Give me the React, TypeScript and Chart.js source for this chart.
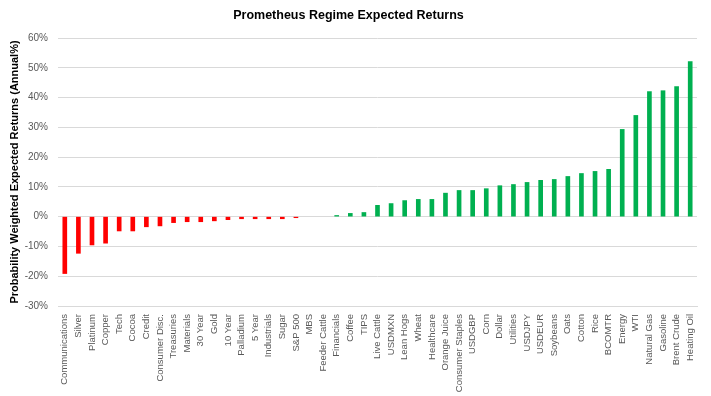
import React, { useEffect, useRef } from "react";
import { Chart, registerables } from "chart.js";

Chart.register(...registerables);

const categories = [
  "Communications", "Silver", "Platinum", "Copper", "Tech", "Cocoa", "Credit", "Consumer Disc.",
  "Treasuries", "Materials", "30 Year", "Gold", "10 Year", "Palladium", "5 Year", "Industrials",
  "Sugar", "S&P 500", "MBS", "Feeder Cattle", "Financials", "Coffee", "TIPS", "Live Cattle",
  "USDMXN", "Lean Hogs", "Wheat", "Healthcare", "Orange Juice", "Consumer Staples", "USDGBP",
  "Corn", "Dollar", "Utilities", "USDJPY", "USDEUR", "Soybeans", "Oats", "Cotton", "Rice",
  "BCOMTR", "Energy", "WTI", "Natural Gas", "Gasoline", "Brent Crude", "Heating Oil",
];

const expectedReturns = [
  -19.1, -12.3, -9.5, -8.9, -4.8, -4.8, -3.4, -3.1,
  -2.0, -1.7, -1.7, -1.4, -1.0, -0.7, -0.7, -0.7,
  -0.7, -0.35, 0, 0, 0.4, 1.1, 1.4, 3.8,
  4.4, 5.4, 5.8, 5.8, 7.9, 8.8, 8.8,
  9.4, 10.4, 10.8, 11.5, 12.2, 12.5, 13.5, 14.5, 15.2,
  15.9, 29.3, 34.0, 42.0, 42.3, 43.7, 52.1,
];

const yMin = -30;
const yMax = 60;
const yStep = 10;

const titleText = "Prometheus Regime Expected Returns";
const yAxisTitle = "Probability Weighted Expected Returns (Annual%)";

export default function App() {
  const ref = useRef<HTMLCanvasElement>(null);
  useEffect(() => {
    if (!ref.current) return;
    const chart = new Chart(ref.current, {
      type: "bar",
      data: {
        labels: categories,
        datasets: [
          {
            data: expectedReturns,
            backgroundColor: expectedReturns.map((v) =>
              v === 0 ? "rgba(0,0,0,0)" : v < 0 ? "#FF0000" : "#00B050"
            ),
            barThickness: 4,
          },
        ],
      },
      options: {
        animation: false,
        responsive: false,
        devicePixelRatio: 1,
        layout: { padding: { left: 0, right: 14, top: 0, bottom: 0 } },
        plugins: {
          legend: { display: false },
          tooltip: { enabled: false },
          title: {
            display: true,
            text: titleText,
            color: "#000000",
            font: { family: "'Liberation Sans', Arial, sans-serif", size: 12.5, weight: "bold" },
            padding: { top: 8, bottom: 15 },
          },
        },
        scales: {
          x: {
            grid: { display: false },
            border: { display: true, color: "#D9D9D9" },
            ticks: {
              autoSkip: false,
              minRotation: 90,
              maxRotation: 90,
              color: "#595959",
              padding: 0,
              font: { family: "'Liberation Sans', Arial, sans-serif", size: 9.5 },
            },
            afterFit: (s: any) => {
              s.height = 90;
            },
          },
          y: {
            min: yMin,
            max: yMax,
            border: { display: false },
            grid: { color: "#D9D9D9", drawTicks: false },
            ticks: {
              stepSize: yStep,
              color: "#595959",
              padding: 10,
              font: { family: "'Liberation Sans', Arial, sans-serif", size: 10 },
              callback: (v: any) => `${v}%`,
            },
            title: {
              display: true,
              text: yAxisTitle,
              color: "#000000",
              padding: { top: 8, bottom: 2 },
              font: { family: "'Liberation Sans', Arial, sans-serif", size: 11, weight: "bold" },
            },
            afterFit: (s: any) => {
              s.width = 58;
            },
          },
        },
      },
    });
    return () => chart.destroy();
  }, []);
  return (
    <div style={{ position: "fixed", left: 0, top: 0, width: 711, height: 396, background: "#fff" }}>
      <canvas ref={ref} width={711} height={396} style={{ width: 711, height: 396 }} />
    </div>
  );
}
